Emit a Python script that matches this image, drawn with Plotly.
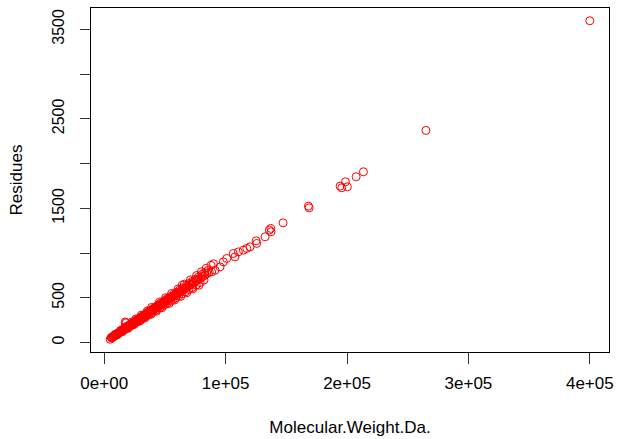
import plotly.graph_objects as go

# Molecular weight (Da) of each protein
mol_weight = [
    4900, 6100, 6800, 7300, 7900, 8400, 8900, 9400, 9800, 10200, 10700, 11100,
    11500, 11900, 12300, 12800, 13200, 13600, 14000, 14300, 14700, 15100, 15500,
    15800, 16200, 16600, 17000, 17400, 17800, 18000, 18200, 18600, 19000, 19300,
    19700, 20100, 20500, 20900, 21300, 21600, 22000, 22400, 22800, 23200, 23600,
    24000, 24400, 24700, 25100, 25500, 25900, 26300, 26700, 27100, 27500, 27900,
    28200, 28600, 29000, 29400, 29800, 30200, 30600, 31000, 31400, 31800, 32200,
    32600, 33000, 33400, 33800, 34200, 34600, 35000, 35400, 35800, 36200, 36600,
    37000, 37500, 37900, 38300, 38700, 39100, 39600, 40000, 40500, 41000, 41400,
    41900, 42400, 42800, 43300, 43800, 44200, 44700, 45200, 45700, 46200, 46700,
    47200, 47700, 48300, 48800, 49400, 50000, 50600, 51200, 51800, 52400, 53000,
    53700, 54300, 55000, 55700, 56400, 57100, 57800, 58500, 59300, 60100, 60900,
    61700, 62600, 63500, 64400, 65300, 66300, 67300, 68300, 69400, 70500, 71700,
    72900, 74200, 75500, 76900, 78300, 79800, 81400, 83000, 84700, 86500,
    9000, 13500, 17000, 22500, 26000, 30500, 35500, 39000, 45500, 50500, 55500,
    61000, 66000, 71000, 76000, 80000, 84000, 88000, 90000,
    10500, 15000, 19500, 24500, 29500, 33500, 38500, 43000, 47500, 53500, 58000,
    63000, 68000, 73000, 78000,
    5800, 7600, 9600, 11300, 13000, 14800, 16400, 18400, 20300, 22200, 24200,
    26500, 28400, 30400, 32400, 34400, 36400, 38100, 40200, 42100, 44400, 46500,
    48500, 50800, 52700, 54600, 57400, 59700, 62200, 64800, 67700, 70000, 72300,
    74800, 77500, 80500, 82600, 85300,
    6500, 8200, 10000, 11700, 13400, 15300, 17200, 19100, 21100, 23000, 25300,
    27300, 29200, 31200, 33200, 35200, 37200, 39400, 41600, 43600, 45900, 48000,
    50300, 52100, 54800, 56900, 59000, 61400, 64000, 66800, 69800, 72500, 75800,
    79000, 82200,
    17200, 64300,
    88500, 91300, 95400, 98100, 100900, 107700, 106300, 110500, 114600, 117400,
    120100, 125600, 125100, 132500, 136000, 137200, 137400, 147300, 168200,
    168800, 194300, 195700, 200300, 198700, 207500, 213500, 265000, 400000,
]

# Number of residues of each protein
residues = [
    36, 55, 60, 66, 70, 76, 80, 84, 90, 92, 97, 100,
    104, 108, 110, 116, 120, 122, 128, 130, 134, 138, 140,
    146, 148, 150, 155, 158, 162, 219, 165, 168, 172, 178,
    180, 184, 186, 190, 195, 198, 200, 204, 206, 212, 214,
    218, 222, 226, 228, 232, 236, 240, 242, 246, 250, 254,
    258, 260, 264, 268, 272, 274, 278, 282, 285, 290, 292,
    296, 300, 304, 306, 312, 314, 318, 322, 326, 330, 333,
    336, 342, 344, 350, 352, 356, 360, 364, 368, 372, 378,
    380, 386, 390, 394, 398, 404, 406, 412, 415, 420, 424,
    430, 434, 438, 445, 448, 455, 460, 466, 470, 477, 482,
    488, 494, 500, 506, 512, 520, 524, 532, 538, 546, 552,
    560, 568, 578, 584, 594, 602, 612, 620, 630, 640, 650,
    662, 674, 686, 698, 712, 726, 738, 754, 770, 786,
    90, 135, 172, 226, 262, 305, 352, 392, 452, 500, 548,
    600, 652, 700, 748, 790, 830, 862, 880,
    84, 122, 158, 200, 240, 275, 315, 350, 388, 436, 475,
    515, 556, 600, 640,
    55, 72, 91, 106, 123, 140, 155, 174, 192, 210, 228,
    250, 268, 287, 306, 325, 343, 360, 380, 397, 419, 439,
    458, 480, 497, 515, 542, 563, 587, 611, 639, 660, 682,
    706, 731, 760, 779, 805,
    52, 69, 85, 99, 114, 130, 146, 162, 179, 195, 214,
    231, 247, 264, 281, 298, 315, 334, 352, 369, 389, 407,
    426, 442, 464, 482, 500, 520, 542, 566, 592, 614, 642,
    670, 697,
    229, 641,
    789, 808, 845, 901, 939, 957, 995, 1013, 1032, 1051,
    1069, 1107, 1136, 1181, 1256, 1275, 1237, 1337, 1524,
    1505, 1748, 1729, 1740, 1796, 1852, 1908, 2370, 3596,
]

x_ticks = [0, 100000, 200000, 300000, 400000]
x_tick_labels = ["0e+00", "1e+05", "2e+05", "3e+05", "4e+05"]
y_ticks = [0, 500, 1000, 1500, 2000, 2500, 3000, 3500]
y_tick_labels = ["0", "500", "", "1500", "", "2500", "", "3500"]

x_min, x_max = min(mol_weight), max(mol_weight)
y_min, y_max = min(residues), max(residues)
x_pad = 0.04 * (x_max - x_min)
y_pad = 0.04 * (y_max - y_min)

FONT = "Liberation Sans, Arial, sans-serif"

fig = go.Figure(
    go.Scatter(
        x=mol_weight,
        y=residues,
        mode="markers",
        marker=dict(symbol="circle-open", size=8, color="#FF0000",
                    line=dict(width=1, color="#FF0000")),
        hoverinfo="x+y",
    )
)

fig.update_layout(
    width=617,
    height=439,
    margin=dict(l=91, r=8, t=8, b=87),
    paper_bgcolor="white",
    plot_bgcolor="white",
    showlegend=False,
    font=dict(family=FONT, color="black"),
    xaxis=dict(
        range=[x_min - x_pad, x_max + x_pad],
        tickmode="array",
        tickvals=x_ticks,
        ticktext=x_tick_labels,
        ticks="outside",
        ticklen=11,
        tickwidth=1,
        tickcolor="#333333",
        showline=True,
        linecolor="black",
        linewidth=1,
        mirror=True,
        showgrid=False,
        zeroline=False,
        automargin=False,
        tickfont=dict(size=17, family=FONT),
        ticklabelstandoff=5,
        title=dict(text="Molecular.Weight.Da.", font=dict(size=17, family=FONT), standoff=28),
    ),
    yaxis=dict(
        range=[y_min - y_pad, y_max + y_pad],
        tickmode="array",
        tickvals=y_ticks,
        ticktext=y_tick_labels,
        ticks="outside",
        ticklen=10,
        tickwidth=1,
        tickcolor="#333333",
        showline=True,
        linecolor="black",
        linewidth=1,
        mirror=True,
        showgrid=False,
        zeroline=False,
        automargin=False,
        tickangle=-90,
        tickfont=dict(size=16, family=FONT),
        ticklabelstandoff=10,
        title=dict(text="Residues", font=dict(size=17, family=FONT), standoff=22),
    ),
)

fig.write_html("out.html")
